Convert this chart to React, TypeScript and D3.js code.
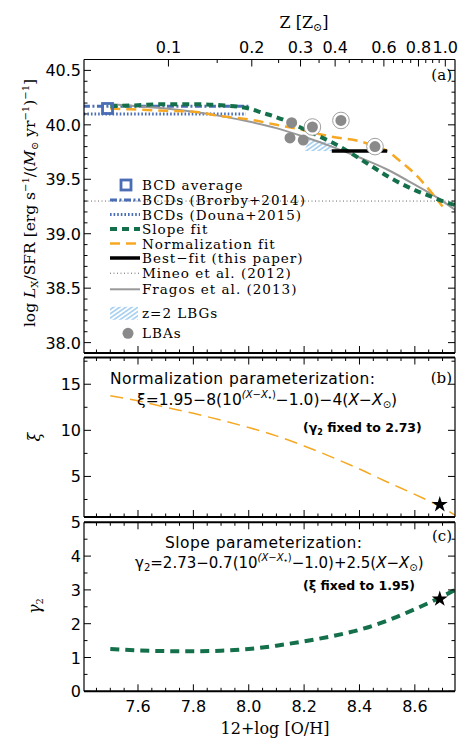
import React from 'react';
import * as d3 from 'd3';

// ---- panel (a): log Lx/SFR vs 12+log(O/H) ----
const slopeFitOH = [7.5, 7.6, 7.7, 7.8, 7.9, 8.0, 8.05, 8.1, 8.15, 8.2, 8.25, 8.3, 8.35, 8.4, 8.45, 8.5, 8.55, 8.6, 8.65, 8.7, 8.75];
const slopeFitLx = [40.17, 40.18, 40.19, 40.19, 40.18, 40.15, 40.11, 40.07, 40.02, 39.96, 39.9, 39.84, 39.77, 39.69, 39.61, 39.53, 39.46, 39.4, 39.35, 39.3, 39.26];

const normFitOH = [7.5, 7.6, 7.7, 7.8, 7.9, 8.0, 8.1, 8.2, 8.3, 8.4, 8.45, 8.5, 8.55, 8.6, 8.65, 8.7];
const normFitLx = [40.15, 40.14, 40.13, 40.12, 40.08, 40.05, 40.0, 39.95, 39.89, 39.85, 39.81, 39.76, 39.66, 39.55, 39.41, 39.25];

const fragosOH = [7.5, 7.6, 7.7, 7.8, 7.9, 8.0, 8.1, 8.2, 8.3, 8.4, 8.5, 8.6, 8.7, 8.75];
const fragosLx = [40.19, 40.17, 40.15, 40.12, 40.08, 40.03, 39.97, 39.89, 39.8, 39.7, 39.59, 39.45, 39.3, 39.21];

const brorbyOH = [7.3, 8.0];
const brorbyLx = 40.17;
const dounaOH = [7.3, 7.99];
const dounaLx = 40.1;
const mineoLx = 39.3;
const bcdAverage = [7.49, 40.15];
const bestFitOH = [8.3, 8.5];
const bestFitLx = 39.76;

const lbgOH = [8.2, 8.22, 8.3, 8.3];
const lbgLx = [39.76, 39.87, 39.83, 39.76];

const lbaOH = [8.155, 8.23, 8.333, 8.149, 8.197, 8.456];
const lbaLx = [40.02, 39.98, 40.04, 39.88, 39.86, 39.8];
const lbaRinged = [false, true, true, false, false, true];

// ---- panel (b): xi (normalization parameterization) ----
const xiOH = [7.5, 7.6, 7.7, 7.8, 7.9, 8.0, 8.1, 8.2, 8.3, 8.4, 8.5, 8.6, 8.7, 8.75];
const xiVal = [13.75, 13.2, 12.5, 11.85, 11.1, 10.3, 9.4, 8.3, 7.1, 5.8, 4.4, 3.05, 1.6, 0.7];

// ---- panel (c): gamma2 (slope parameterization) ----
const gammaOH = [7.5, 7.6, 7.7, 7.8, 7.9, 8.0, 8.1, 8.2, 8.3, 8.4, 8.5, 8.6, 8.7, 8.75];
const gammaVal = [1.25, 1.21, 1.19, 1.185, 1.2, 1.25, 1.35, 1.48, 1.63, 1.82, 2.09, 2.43, 2.81, 3.02];

const solarOH = 8.69;
const starXi = 1.95;
const starGamma = 2.73;

// ---- ticks ----
const ohMajor = [7.6, 7.8, 8.0, 8.2, 8.4, 8.6];
const ohMinor = [7.45, 7.5, 7.55, 7.65, 7.7, 7.75, 7.85, 7.9, 7.95, 8.05, 8.1, 8.15, 8.25, 8.3, 8.35, 8.45, 8.5, 8.55, 8.65, 8.7];
const zMajor = [0.1, 0.2, 0.3, 0.4, 0.6, 0.8, 1.0];
const zLabels = ['0.1', '0.2', '0.3', '0.4', '0.6', '0.8', '1.0'];
const zMinor = [0.15, 0.25, 0.35, 0.45, 0.5, 0.55, 0.65, 0.7, 0.75, 0.85, 0.9, 0.95];
const lxMajor = [38.0, 38.5, 39.0, 39.5, 40.0, 40.5];
const lxLabels = ['38.0', '38.5', '39.0', '39.5', '40.0', '40.5'];
const lxMinor = d3.range(38, 40.61, 0.1).map(v => Math.round(v * 10) / 10).filter(v => !lxMajor.includes(v));
const xiMajor = [5, 10, 15];
const xiMinor = [2.5, 7.5, 12.5, 17.5];
const gammaMajor = [0, 1, 2, 3, 4, 5];
const gammaMinor = [0.5, 1.5, 2.5, 3.5, 4.5];

const legendLabels = [
  'BCD average', 'BCDs (Brorby+2014)', 'BCDs (Douna+2015)', 'Slope fit', 'Normalization fit',
  'Best\u2212fit (this paper)', 'Mineo et al. (2012)', 'Fragos et al. (2013)', 'z=2 LBGs', 'LBAs',
];

// layout
const X_LEFT = 84;
const X_RIGHT = 455;
const A = { top: 59.5, bottom: 353 };
const B = { top: 357.5, bottom: 517 };
const C = { top: 522.3, bottom: 691.3 };
const TOP_SOLAR = 8.71;

const BLUE = '#4a6db5';
const GREEN = '#13704a';
const ORANGE = '#f7a823';
const GRAY = '#999999';
const serif = '"DejaVu Serif", serif';
const sans = '"DejaVu Sans", sans-serif';

const x = d3.scaleLinear().domain([7.405, 8.745]).range([X_LEFT, X_RIGHT]);
const zTop = d3.scaleLog()
  .domain([10 ** (7.405 - TOP_SOLAR), 10 ** (8.745 - TOP_SOLAR)])
  .range([X_LEFT, X_RIGHT]);
const yA = d3.scaleLinear().domain([37.9, 40.6]).range([353.5, 59.5]);
const yB = d3.scaleLinear().domain([0.6, 17.9]).range([517, 357.5]);
const yC = d3.scaleLinear().domain([0, 5]).range([691.3, 522.3]);

const curve = (xs: number[], ys: number[], yScale: d3.ScaleLinear<number, number>) =>
  d3.line<number>()
    .x((_, i) => x(xs[i]))
    .y(d => yScale(d))
    .curve(d3.curveMonotoneX)(ys) || '';

const yTicks = (scale: d3.ScaleLinear<number, number>, vals: number[], len: number, k: string) =>
  vals.map(v => (
    <g key={k + v}>
      <line x1={X_LEFT} x2={X_LEFT + len} y1={scale(v)} y2={scale(v)} />
      <line x1={X_RIGHT - len} x2={X_RIGHT} y1={scale(v)} y2={scale(v)} />
    </g>
  ));

const xTicks = (top: number, bottom: number, k: string, doTop = true) => (
  <g>
    {ohMajor.map(v => (
      <g key={k + 'M' + v}>
        {doTop && <line x1={x(v)} x2={x(v)} y1={top} y2={top + 7} />}
        <line x1={x(v)} x2={x(v)} y1={bottom - 7} y2={bottom} />
      </g>
    ))}
    {ohMinor.map(v => (
      <g key={k + 'm' + v}>
        {doTop && <line x1={x(v)} x2={x(v)} y1={top} y2={top + 3.5} />}
        <line x1={x(v)} x2={x(v)} y1={bottom - 3.5} y2={bottom} />
      </g>
    ))}
  </g>
);

const frame = (p: { top: number; bottom: number }, topW = 2) => (
  <g stroke="#000" fill="none">
    <line x1={X_LEFT} x2={X_RIGHT} y1={p.top} y2={p.top} strokeWidth={topW} />
    <line x1={X_LEFT} x2={X_RIGHT} y1={p.bottom} y2={p.bottom} strokeWidth={2} />
    <line x1={X_LEFT} x2={X_LEFT} y1={p.top} y2={p.bottom} strokeWidth={1.2} />
    <line x1={X_RIGHT} x2={X_RIGHT} y1={p.top} y2={p.bottom} strokeWidth={1.2} />
  </g>
);

const legendRowY = [185, 200, 214.5, 229, 243.5, 258, 273.2, 289.3, 313.3, 333.3];

const App = () => {
  const star = d3.symbol().type(d3.symbolStar).size(80)() || '';
  const lbgPath = d3.line<number>().x((_, i) => x(lbgOH[i])).y(d => yA(d))(lbgLx) + 'Z';

  return (
    <svg width={471} height={752} style={{ position: 'absolute', left: 0, top: 0, background: '#fff' }}>
      <defs>
        <clipPath id="clipA"><rect x={X_LEFT} y={A.top} width={X_RIGHT - X_LEFT} height={A.bottom - A.top} /></clipPath>
        <clipPath id="clipB"><rect x={X_LEFT} y={B.top} width={X_RIGHT - X_LEFT} height={B.bottom - B.top} /></clipPath>
        <clipPath id="clipC"><rect x={X_LEFT} y={C.top} width={X_RIGHT - X_LEFT} height={C.bottom - C.top} /></clipPath>
        <pattern id="hatch" width={3.5} height={3.5} patternUnits="userSpaceOnUse" patternTransform="rotate(-35)">
          <line x1={0} y1={1.75} x2={3.5} y2={1.75} stroke="#5aa8e4" strokeWidth={0.9} />
        </pattern>
      </defs>

      {/* ---------- panel (a) ---------- */}
      <g clipPath="url(#clipA)" fill="none">
        <line x1={X_LEFT} x2={X_RIGHT} y1={yA(mineoLx)} y2={yA(mineoLx)} stroke="#666" strokeWidth={1} strokeDasharray="1,2.5" />
        <path d={lbgPath} fill="url(#hatch)" />
        <line x1={x(dounaOH[0])} x2={x(dounaOH[1])} y1={yA(dounaLx)} y2={yA(dounaLx)} stroke={BLUE} strokeWidth={3} strokeDasharray="1.6,2" />
        <line x1={x(brorbyOH[0])} x2={x(brorbyOH[1])} y1={yA(brorbyLx)} y2={yA(brorbyLx)} stroke={BLUE} strokeWidth={3} strokeDasharray="7,2.5,2,2.5" />
        <path d={curve(fragosOH, fragosLx, yA)} stroke={GRAY} strokeWidth={2} />
        <path d={curve(normFitOH, normFitLx, yA)} stroke={ORANGE} strokeWidth={2.5} strokeDasharray="10,6" />
        <path d={curve(slopeFitOH, slopeFitLx, yA)} stroke={GREEN} strokeWidth={4} strokeDasharray="7,5" />
        <line x1={x(bestFitOH[0])} x2={x(bestFitOH[1])} y1={yA(bestFitLx)} y2={yA(bestFitLx)} stroke="#000" strokeWidth={3.5} />
        {lbaOH.map((oh, i) => (
          <g key={'lba' + i}>
            {lbaRinged[i] && <circle cx={x(oh)} cy={yA(lbaLx[i])} r={8.3} fill="#fff" stroke="#a0a0a0" strokeWidth={1} />}
            <circle cx={x(oh)} cy={yA(lbaLx[i])} r={5.5} fill="#8a8a8a" />
          </g>
        ))}
        <rect x={x(bcdAverage[0]) - 5} y={yA(bcdAverage[1]) - 5} width={10} height={10} fill="none" stroke={BLUE} strokeWidth={2.8} />
      </g>

      {/* legend */}
      <g fontFamily={serif} fontSize={13.5} letterSpacing={1}>
        <rect x={121} y={legendRowY[0] - 5} width={10} height={10} fill="none" stroke={BLUE} strokeWidth={2.8} />
        <line x1={110} x2={140} y1={legendRowY[1]} y2={legendRowY[1]} stroke={BLUE} strokeWidth={3} strokeDasharray="7,2.5,2,2.5" />
        <line x1={110} x2={140} y1={legendRowY[2]} y2={legendRowY[2]} stroke={BLUE} strokeWidth={3} strokeDasharray="1.6,2" />
        <line x1={110} x2={140} y1={legendRowY[3]} y2={legendRowY[3]} stroke={GREEN} strokeWidth={4} strokeDasharray="7,5" />
        <line x1={110} x2={140} y1={legendRowY[4]} y2={legendRowY[4]} stroke={ORANGE} strokeWidth={2.5} strokeDasharray="10,6" />
        <line x1={110} x2={140} y1={legendRowY[5]} y2={legendRowY[5]} stroke="#000" strokeWidth={3.5} />
        <line x1={110} x2={140} y1={legendRowY[6]} y2={legendRowY[6]} stroke="#666" strokeWidth={1} strokeDasharray="1,2.5" />
        <line x1={110} x2={140} y1={legendRowY[7]} y2={legendRowY[7]} stroke={GRAY} strokeWidth={2} />
        <rect x={110} y={legendRowY[8] - 6.5} width={28} height={13} fill="url(#hatch)" />
        <circle cx={128} cy={legendRowY[9]} r={5.5} fill="#8a8a8a" />
        {legendLabels.map((t, i) => (
          <text key={t} x={142} y={legendRowY[i] + 5}>{t}</text>
        ))}
      </g>

      {frame(A, 1.2)}
      <g stroke="#000" strokeWidth={1}>
        {xTicks(A.top, A.bottom, 'a', false)}
        {zMajor.map(v => <line key={'zM' + v} x1={zTop(v)} x2={zTop(v)} y1={A.top} y2={A.top + 7} />)}
        {zMinor.map(v => <line key={'zm' + v} x1={zTop(v)} x2={zTop(v)} y1={A.top} y2={A.top + 3.5} />)}
        {yTicks(yA, lxMajor, 7, 'aM')}
        {yTicks(yA, lxMinor, 3.5, 'am')}
      </g>
      <g fontFamily={sans} fontSize={16}>
        {zMajor.map((v, i) => (
          <text key={'zl' + v} x={zTop(v)} y={53} textAnchor="middle">{zLabels[i]}</text>
        ))}
        {lxMajor.map((v, i) => (
          <text key={'yl' + v} x={81} y={yA(v) + 6} textAnchor="end">{lxLabels[i]}</text>
        ))}
      </g>
      <text x={304} y={28} textAnchor="middle" fontFamily={serif} fontSize={16}>
        Z [Z<tspan fontSize={11} dy={3}>{'\u2299'}</tspan><tspan dy={-3}>]</tspan>
      </text>
      <text x={452} y={80} textAnchor="end" fontFamily={serif} fontSize={15}>(a)</text>
      <text transform="translate(35,203) rotate(-90)" textAnchor="middle" fontFamily={serif} fontSize={15.5}>
        log <tspan fontStyle="italic">L</tspan><tspan fontSize={10} dy={3}>X</tspan>
        <tspan dy={-3}>/SFR [erg s</tspan><tspan fontSize={10} dy={-6}>{'\u22121'}</tspan>
        <tspan dy={6}>/(</tspan><tspan fontStyle="italic">M</tspan><tspan fontSize={10} dy={3}>{'\u2299'}</tspan>
        <tspan dy={-3}> yr</tspan><tspan fontSize={10} dy={-6}>{'\u22121'}</tspan>
        <tspan dy={6}>)</tspan><tspan fontSize={10} dy={-6}>{'\u22121'}</tspan><tspan dy={6}>]</tspan>
      </text>

      {/* ---------- panel (b) ---------- */}
      <g clipPath="url(#clipB)">
        <path d={curve(xiOH, xiVal, yB)} fill="none" stroke={ORANGE} strokeWidth={1.5} strokeDasharray="13,7" />
        <path d={star} transform={`translate(${x(solarOH)},${yB(starXi)})`} fill="#000" />
      </g>
      {frame(B)}
      <g stroke="#000" strokeWidth={1}>
        {xTicks(B.top, B.bottom, 'b')}
        {yTicks(yB, xiMajor, 7, 'bM')}
        {yTicks(yB, xiMinor, 3.5, 'bm')}
      </g>
      <g fontFamily={sans} fontSize={16}>
        {xiMajor.map(v => (
          <text key={'xl' + v} x={81} y={yB(v) + 6} textAnchor="end">{v}</text>
        ))}
        {gammaMajor.map(v => (
          <text key={'gl' + v} x={81} y={yC(v) + 6} textAnchor="end">{v}</text>
        ))}
      </g>
      <text transform="translate(40,437) rotate(-90)" textAnchor="middle" fontFamily={serif} fontSize={16} fontStyle="italic">{'\u03be'}</text>
      <text x={452} y={383} textAnchor="end" fontFamily={serif} fontSize={15}>(b)</text>
      <text x={110} y={384} fontFamily={sans} fontSize={15.5} textLength={265} lengthAdjust="spacing">Normalization parameterization:</text>
      <text x={137} y={405} fontFamily={sans} fontSize={15.5}>
        {'\u03be=1.95\u22128(10'}
        <tspan fontSize={10} fontStyle="italic" dy={-7}>{'(X\u2212X'}</tspan>
        <tspan fontSize={7} dy={2}>{'\u2022'}</tspan>
        <tspan fontSize={10} dy={-2}>)</tspan>
        <tspan dy={7}>{'\u22121.0)\u22124('}</tspan>
        <tspan fontStyle="italic">X</tspan>{'\u2212'}<tspan fontStyle="italic">X</tspan>
        <tspan fontSize={10} dy={3}>{'\u2299'}</tspan>
        <tspan dy={-3}>)</tspan>
      </text>
      <text x={303} y={432} fontFamily={sans} fontSize={12.5} fontWeight="bold">
        ({'\u03b3'}<tspan fontSize={8} dy={3}>2</tspan><tspan dy={-3}> fixed to 2.73)</tspan>
      </text>

      {/* ---------- panel (c) ---------- */}
      <g clipPath="url(#clipC)">
        <path d={curve(gammaOH, gammaVal, yC)} fill="none" stroke={GREEN} strokeWidth={4} strokeDasharray="9,6" />
        <path d={star} transform={`translate(${x(solarOH)},${yC(starGamma)})`} fill="#000" />
      </g>
      {frame(C)}
      <g stroke="#000" strokeWidth={1}>
        {xTicks(C.top, C.bottom, 'c')}
        {yTicks(yC, gammaMajor, 7, 'cM')}
        {yTicks(yC, gammaMinor, 3.5, 'cm')}
      </g>
      <text transform="translate(40,606) rotate(-90)" textAnchor="middle" fontFamily={serif} fontSize={16}>
        <tspan fontStyle="italic">{'\u03b3'}</tspan><tspan fontSize={10} dy={3}>2</tspan>
      </text>
      <text x={452} y={541} textAnchor="end" fontFamily={serif} fontSize={15}>(c)</text>
      <text x={165} y={548} fontFamily={sans} fontSize={15.5} textLength={197} lengthAdjust="spacing">Slope parameterization:</text>
      <text x={135} y={568} fontFamily={sans} fontSize={15}>
        {'\u03b3'}<tspan fontSize={10} dy={3}>2</tspan>
        <tspan dy={-3}>{'=2.73\u22120.7(10'}</tspan>
        <tspan fontSize={10} fontStyle="italic" dy={-7}>{'(X\u2212X'}</tspan>
        <tspan fontSize={7} dy={2}>{'\u2022'}</tspan>
        <tspan fontSize={10} dy={-2}>)</tspan>
        <tspan dy={7}>{'\u22121.0)+2.5('}</tspan>
        <tspan fontStyle="italic">X</tspan>{'\u2212'}<tspan fontStyle="italic">X</tspan>
        <tspan fontSize={10} dy={3}>{'\u2299'}</tspan>
        <tspan dy={-3}>)</tspan>
      </text>
      <text x={303} y={590} fontFamily={sans} fontSize={12.5} fontWeight="bold">
        ({'\u03be'} fixed to 1.95)
      </text>

      {/* bottom axis labels */}
      <g fontFamily={sans} fontSize={16}>
        {ohMajor.map(v => (
          <text key={'ol' + v} x={x(v)} y={712} textAnchor="middle">{v.toFixed(1)}</text>
        ))}
      </g>
      <text x={275} y={734} textAnchor="middle" fontFamily={serif} fontSize={16}>12+log [O/H]</text>
    </svg>
  );
};

export default App;
